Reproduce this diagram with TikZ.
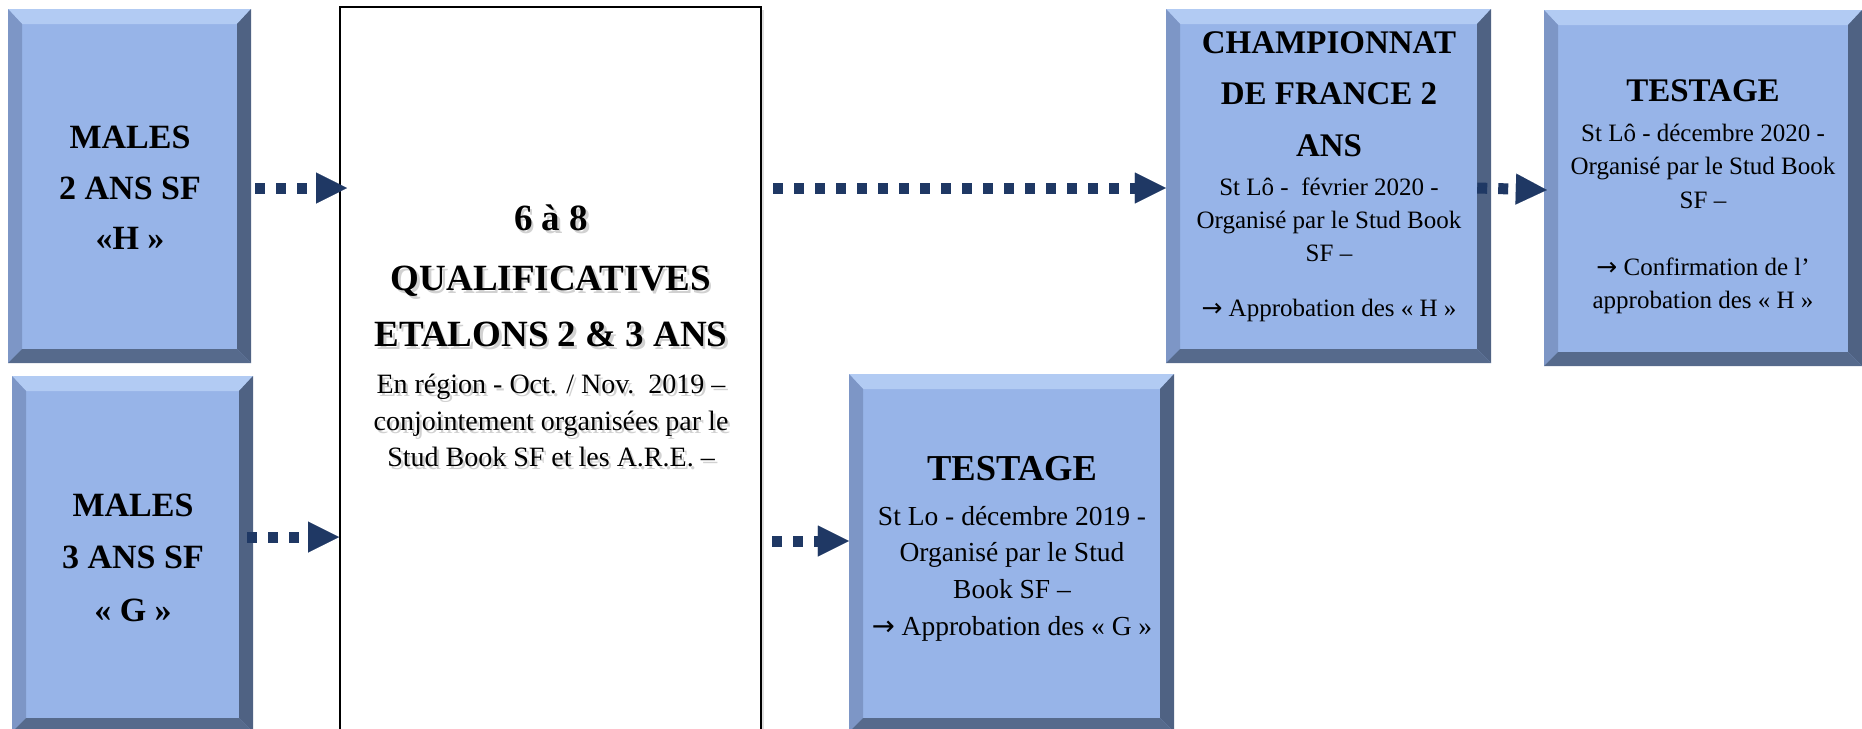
\documentclass[tikz,border=0pt]{standalone}
\usepackage{fontspec}
\setmainfont{Liberation Serif}
\newfontfamily\arrowfont{DejaVu Sans}
\newcommand{\rarr}{{\arrowfont →}}
\usetikzlibrary{arrows.meta,shadows}
\definecolor{boxfill}{HTML}{97B4E8}
\definecolor{bevtop}{HTML}{B2CBF3}
\definecolor{bevleft}{HTML}{7D96C6}
\definecolor{bevright}{HTML}{4F6283}
\definecolor{bevbottom}{HTML}{566A8C}
\definecolor{navy}{HTML}{1F3864}
\tikzset{
  bevelbox/.style={rectangle, inner sep=0pt, fill=boxfill, draw=none,
    path picture={
      \fill[bevtop] (path picture bounding box.north west) -- (path picture bounding box.north east)
        -- ([xshift=-14pt,yshift=-15pt]path picture bounding box.north east)
        -- ([xshift=14pt,yshift=-15pt]path picture bounding box.north west) -- cycle;
      \fill[bevleft] (path picture bounding box.north west) -- (path picture bounding box.south west)
        -- ([xshift=14pt,yshift=14pt]path picture bounding box.south west)
        -- ([xshift=14pt,yshift=-15pt]path picture bounding box.north west) -- cycle;
      \fill[bevright] (path picture bounding box.north east) -- (path picture bounding box.south east)
        -- ([xshift=-14pt,yshift=14pt]path picture bounding box.south east)
        -- ([xshift=-14pt,yshift=-15pt]path picture bounding box.north east) -- cycle;
      \fill[bevbottom] (path picture bounding box.south west) -- (path picture bounding box.south east)
        -- ([xshift=-14pt,yshift=14pt]path picture bounding box.south east)
        -- ([xshift=14pt,yshift=14pt]path picture bounding box.south west) -- cycle;
    }},
  plainbox/.style={rectangle, inner sep=0pt, fill=white, draw=black, line width=2pt,
    drop shadow={opacity=0.25, shadow xshift=3pt, shadow yshift=-3pt}},
  txt/.style={anchor=base, inner sep=0pt, text=black},
  shad/.style={text=black, text opacity=0.18},
  hA/.style={txt, font=\fontsize{34}{40}\selectfont\bfseries},
  hB/.style={txt, font=\fontsize{37}{44}\selectfont\bfseries},
  hC/.style={txt, font=\fontsize{33}{40}\selectfont\bfseries},
  hD/.style={txt, font=\fontsize{36.5}{44}\selectfont\bfseries},
  sA/.style={txt, font=\fontsize{28}{34}\selectfont},
  sB/.style={txt, font=\fontsize{25}{30}\selectfont},
  sC/.style={txt, font=\fontsize{27.5}{33}\selectfont},
  arr/.style={draw=navy, line width=11pt, dash pattern=on 10pt off 11pt,
    -{Triangle[length=31pt,width=31pt,line width=0.01pt]}},
}
\newcommand{\shline}[4]{%
  \node[#2, shad] (#1s) at ([xshift=2.5pt,yshift=-3pt]#3) {#4};
  \node[#2] (#1) at (#3) {#4};}
\begin{document}
\begin{tikzpicture}[x=1pt,y=-1pt]
\useasboundingbox (0,0) rectangle (1862,728);
% boxes
\node[bevelbox, minimum width=243pt, minimum height=354pt] (m2) at (129.5,186) {};
\node[bevelbox, minimum width=241pt, minimum height=356pt] (m3) at (132.5,554) {};
\node[plainbox, minimum width=421pt, minimum height=728pt] (qual) at (550.5,371) {};
\node[bevelbox, minimum width=325pt, minimum height=354pt] (champ) at (1328.5,186) {};
\node[bevelbox, minimum width=318pt, minimum height=356pt] (test1) at (1703,188) {};
\node[bevelbox, minimum width=325pt, minimum height=358pt] (test2) at (1011.5,553) {};
% texts
\node[hA] (m2a) at (130,148) {MALES};
\node[hA] (m2b) at (130,199) {2 ANS SF};
\node[hA] (m2c) at (130,249) {«H »};
\node[hA] (m3a) at (133,516) {MALES};
\node[hA] (m3b) at (133,568) {3 ANS SF};
\node[hA] (m3c) at (133,621) {« G »};
\shline{qa}{hB}{551,230}{6 à 8}
\shline{qb}{hB}{551,290}{QUALIFICATIVES}
\shline{qc}{hB}{551,346}{ETALONS 2 \& 3 ANS}
\shline{qd}{sA}{551,393}{En région - Oct. / Nov.\ \ 2019 –}
\shline{qe}{sA}{551,430}{conjointement organisées par le}
\shline{qf}{sA}{551,466}{Stud Book SF et les A.R.E. –}
\node[hC] (ca) at (1329,53) {CHAMPIONNAT};
\node[hC] (cb) at (1329,104) {DE FRANCE 2};
\node[hC] (cc) at (1329,156) {ANS};
\node[sB] (cd) at (1329,195) {St Lô -\ \ février 2020 -};
\node[sB] (ce) at (1329,228) {Organisé par le Stud Book};
\node[sB] (cf) at (1329,261) {SF –};
\node[sB] (cg) at (1329,316) {\rarr\ Approbation des « H »};
\node[hC] (ta) at (1703,101) {TESTAGE};
\node[sB] (tb) at (1703,141) {St Lô - décembre 2020 -};
\node[sB] (tc) at (1703,174) {Organisé par le Stud Book};
\node[sB] (td) at (1703,208) {SF –};
\node[sB] (te) at (1703,275) {\rarr\ Confirmation de l’};
\node[sB] (tf) at (1703,308) {approbation des « H »};
\node[hD] (ua) at (1012,480) {TESTAGE};
\node[sC] (ub) at (1012,525) {St Lo - décembre 2019 -};
\node[sC] (uc) at (1012,561) {Organisé par le Stud};
\node[sC] (ud) at (1012,598) {Book SF –};
\node[sC] (ue) at (1012,635) {\rarr\ Approbation des « G »};
% connectors
\coordinate (e1) at (qual.west |- m2.east);
\coordinate (e2) at (qual.west |- m3.east);
\coordinate (s3) at (qual.east |- champ.west);
\coordinate (s4) at (qual.east |- test2.west);
\draw[arr] ([xshift=4pt,yshift=-2pt]m2.east) -- ([xshift=8pt,yshift=-2pt]e1);
\draw[arr] ([xshift=-6pt,yshift=17pt]m3.east) -- ([yshift=17pt]e2);
\draw[arr] ([xshift=11pt,yshift=-2pt]s3) -- ([yshift=-2pt]champ.west);
\draw[arr] ([xshift=10pt,yshift=12pt]s4) -- ([yshift=12pt]test2.west);
\draw[arr] ([xshift=-14pt,yshift=-2pt]champ.east) -- ([xshift=3pt,yshift=-2pt]test1.west);
\end{tikzpicture}
\end{document}
